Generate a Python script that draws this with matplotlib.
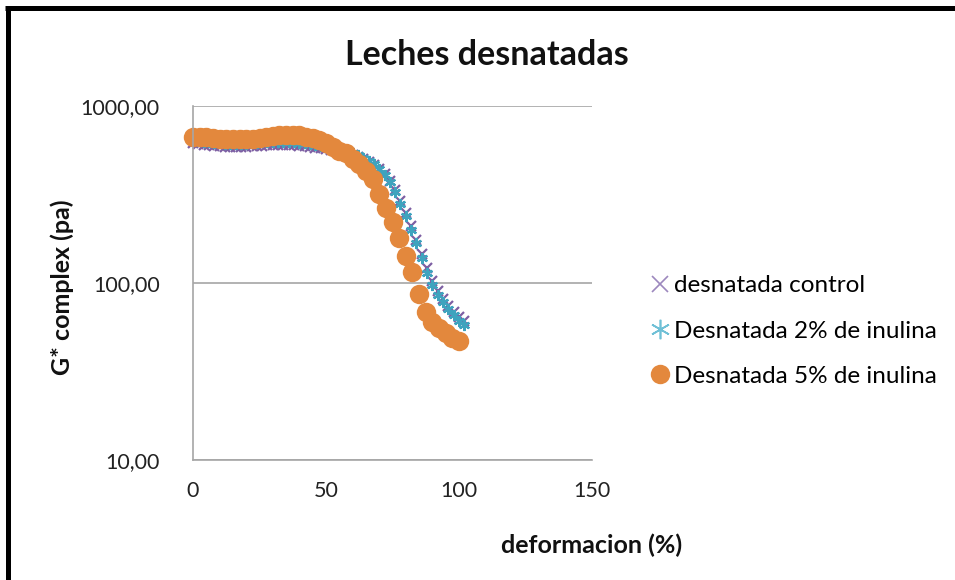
import matplotlib
matplotlib.use("Agg")
import matplotlib.pyplot as plt
from matplotlib.lines import Line2D

plt.rcParams['font.family'] = ['Lato', 'DejaVu Sans']

# data
x_ctrl = [0, 2, 4, 6, 8, 10, 12, 14, 16, 18, 20, 22, 24, 26, 28, 30, 32, 34, 36, 38, 40,
          42, 44, 46, 48, 50, 52, 54, 56, 58, 60, 62, 64, 66, 68, 70, 72, 74, 76, 78, 80,
          82, 84, 86, 88, 90, 92, 94, 96, 98, 100, 102]
y_ctrl = [615, 610, 605, 600, 596, 592, 590, 588, 588, 588, 590, 592, 595, 598, 600, 602,
          603, 603, 602, 600, 597, 593, 588, 582, 576, 570, 563, 556, 548, 540, 530, 518,
          503, 485, 465, 442, 413, 378, 335, 290, 248, 210, 176, 146, 121, 103, 90, 81,
          74, 69, 64, 61]
x_2 = x_ctrl
y_2 = [640, 635, 630, 625, 620, 615, 612, 610, 610, 610, 612, 615, 618, 622, 625, 628,
       630, 630, 628, 625, 620, 615, 610, 605, 598, 590, 582, 574, 565, 555, 545, 530,
       510, 490, 468, 442, 410, 370, 325, 280, 238, 200, 168, 138, 114, 97, 86, 78,
       71, 66, 61, 58]
x_5 = [0, 2.5, 5, 7.5, 10, 12.5, 15, 17.5, 20, 22.5, 25, 27.5, 30, 32.5, 35, 37.5, 40,
       42.5, 45, 47.5, 50, 52.5, 55, 57.5, 60, 62.5, 65, 67.5, 70, 72.5, 75, 77.5, 80,
       82.5, 85, 87.5, 90, 92.5, 95, 97.5, 100]
y_5 = [670, 672, 668, 660, 655, 650, 648, 648, 650, 655, 662, 670, 678, 684, 688, 688,
       682, 672, 658, 640, 615, 585, 560, 540, 505, 470, 430, 385, 320, 265, 220, 180,
       142, 116, 87, 69, 60, 56, 52, 49, 47]

labels = ["desnatada control", "Desnatada 2% de inulina", "Desnatada 5% de inulina"]
x_ticks = [0, 50, 100, 150]
y_ticks = [10, 100, 1000]
y_ticklabels = ["10,00", "100,00", "1000,00"]

c_ctrl = '#7D5FA3'
c_2 = '#3FA3BE'
c_5 = '#E3883D'

fig = plt.figure(figsize=(9.55, 5.8), dpi=100)
ax = fig.add_axes([193/955, 1-460/580, (592-193)/955, (460-106)/580])

ax.plot(x_ctrl, y_ctrl, linestyle='none', marker='x', color=c_ctrl, markersize=7,
        markeredgewidth=1.6, label=labels[0])
ax.plot(x_2, y_2, linestyle='none', marker=(6, 2, 0), color=c_2, markersize=8,
        markeredgewidth=1.6, label=labels[1])
ax.plot(x_5, y_5, linestyle='none', marker='o', color=c_5, markersize=14,
        markeredgewidth=0, label=labels[2])

ax.set_yscale('log')
ax.set_ylim(10, 1000)
ax.set_xlim(0, 150)
ax.set_yticks(y_ticks)
ax.set_yticklabels(y_ticklabels)
ax.minorticks_off()
ax.set_xticks(x_ticks)
ax.tick_params(axis='both', length=0, labelsize=15.5, labelcolor='#222222')
ax.tick_params(axis='y', pad=24)
ax.tick_params(axis='x', pad=15)
for s in ['top', 'right']:
    ax.spines[s].set_visible(False)
for s in ['left', 'bottom']:
    ax.spines[s].set_color('#A6A6A6')
    ax.spines[s].set_linewidth(1.2)
ax.grid(axis='y', color='#A6A6A6', linewidth=1.2)
ax.set_axisbelow(True)
for l in ax.lines:
    l.set_clip_on(False)

fig.text(487/955, 1-55/580, "Leches desnatadas", ha='center', va='center',
         fontsize=24.5, fontweight='bold', color='#111111')
fig.text(592/955, 1-545/580, "deformacion (%)", ha='center', va='center',
         fontsize=18, fontweight='bold', color='#111111')
fig.text(62/955, 1-287/580, "G* complex (pa)", ha='center', va='center',
         rotation=90, fontsize=18, fontweight='bold', color='#111111')

handles = [
    Line2D([], [], linestyle='none', marker='x', color='#9C88BE', markersize=12, markeredgewidth=1.2),
    Line2D([], [], linestyle='none', marker=(6, 2, 0), color='#6FC0D6', markersize=14, markeredgewidth=1.2),
    Line2D([], [], linestyle='none', marker='o', color=c_5, markersize=14, markeredgewidth=0),
]
fig.legend(handles, labels, loc='center left', bbox_to_anchor=(650/955, 1-331/580),
           frameon=False, fontsize=17.5, handlelength=0.8, handletextpad=0.2,
           labelspacing=1.0, borderpad=0, borderaxespad=0)

# outer frame lines (left and top)
fig.add_artist(Line2D([7.5/955, 7.5/955], [0, 1-7.5/580], transform=fig.transFigure,
                      color='black', linewidth=3.6, solid_capstyle='butt'))
fig.add_artist(Line2D([5/955, 1], [1-7.5/580, 1-7.5/580], transform=fig.transFigure,
                      color='black', linewidth=3.6, solid_capstyle='butt'))

fig.savefig('out.png', dpi=100)
